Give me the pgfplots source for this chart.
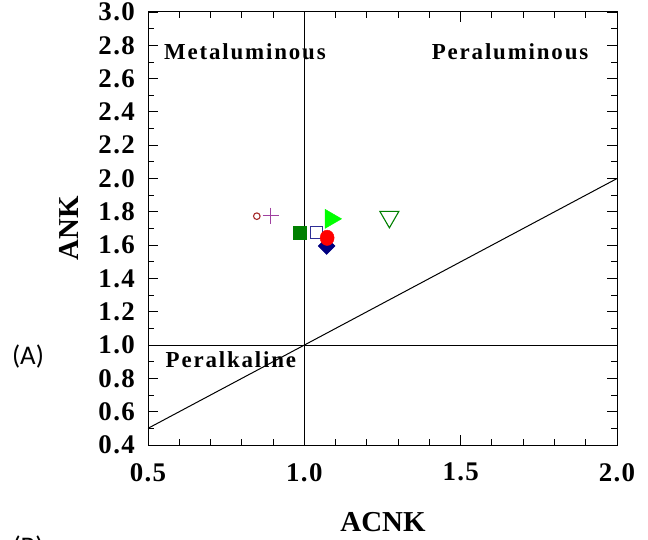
\documentclass[border=0pt]{standalone}
\usepackage{fontspec}
\setmainfont{Liberation Serif}
\newfontfamily\carlito{Carlito}
\newfontfamily\spaced[LetterSpace=8]{Liberation Serif}
\newfontfamily\tickfont[LetterSpace=5]{Liberation Serif}
\usepackage{pgfplots}
\pgfplotsset{compat=1.18}
\definecolor{mdarkred}{HTML}{A52A2A}
\definecolor{mpurple}{HTML}{A040A0}
\definecolor{mdgreen}{HTML}{008000}
\definecolor{mnavy}{HTML}{2E2E96}
\definecolor{mnavyf}{HTML}{000080}
\definecolor{mlime}{HTML}{00FF00}
\begin{document}
\begin{tikzpicture}
\path[use as bounding box] (0,0) rectangle (648bp,540bp);
\begin{axis}[
  at={(148bp,95bp)}, anchor=south west,
  scale only axis, width=469bp, height=433bp,
  xmin=0.5, xmax=2.0, ymin=0.4, ymax=3.0,
  xtick={0.5,1.0,1.5,2.0},
  ytick={0.4,0.6,0.8,1.0,1.2,1.4,1.6,1.8,2.0,2.2,2.4,2.6,2.8,3.0},
  minor x tick num=4, minor y tick num=1,
  tick align=inside, xtick pos=both, ytick pos=both,
  major tick length=10bp, minor tick length=6bp,
  tick style={black, line width=0.9bp},
  axis line style={line width=1bp},
  /pgf/number format/.cd, fixed, fixed zerofill, precision=1, assume math mode=true,
  /pgfplots/.cd,
  ticklabel style={font=\tickfont\bfseries\fontsize{27}{29}\selectfont},
  yticklabel style={inner sep=0pt, anchor=east, xshift=-13bp},
  xticklabel style={inner sep=0pt, anchor=north, yshift=-18bp},
  xlabel={ACNK}, ylabel={ANK},
  label style={font=\bfseries\fontsize{29}{31}\selectfont},
  xlabel style={at={(axis description cs:0.501,-0.1778)}, anchor=center},
  ylabel style={at={(axis description cs:-0.1684,0.501)}, anchor=center},
  clip=false,
]
\addplot[black, line width=1bp] coordinates {(0.5,0.5) (2.0,2.0)};
\addplot[black, line width=1bp] coordinates {(1.0,0.4) (1.0,3.0)};
\addplot[black, line width=1bp] coordinates {(0.5,1.0) (2.0,1.0)};
% samples
\addplot[only marks, mark=o, mark size=3.3bp, mdarkred, line width=1.1bp] coordinates {(0.848,1.774)};
\addplot[only marks, mark=+, mark size=8bp, mpurple, line width=1.1bp] coordinates {(0.892,1.778)};
\addplot[only marks, mark=square*, mark size=6.5bp, draw=mdgreen, fill=mdgreen] coordinates {(0.986,1.674)};
\addplot[only marks, mark=square, mark size=6bp, mnavy, line width=1.1bp] coordinates {(1.040,1.674)};
\addplot[only marks, mark=diamond*, mark size=8.5bp, mark options={xscale=1.33}, draw=mnavyf, fill=mnavyf] coordinates {(1.071,1.595)};
\addplot[only marks, mark=*, mark size=7bp, mark options={yscale=1.1}, draw=red, fill=red] coordinates {(1.073,1.644)};
\addplot[only marks, mark=triangle*, mark size=11bp, mark options={rotate=-90}, draw=mlime, fill=mlime] coordinates {(1.084,1.758)};
\addplot[only marks, mark=triangle, mark size=11bp, mark options={rotate=180}, mdgreen, line width=1.1bp] coordinates {(1.272,1.770)};
\node[font=\spaced\bfseries\fontsize{23}{25}\selectfont] at (axis cs:0.81,2.76) {Metaluminous};
\node[font=\spaced\bfseries\fontsize{23}{25}\selectfont] at (axis cs:1.658,2.76) {Peraluminous};
\node[font=\spaced\bfseries\fontsize{23}{25}\selectfont] at (axis cs:0.765,0.91) {Peralkaline};
\end{axis}
\node[font=\carlito\fontsize{27}{29}\selectfont] at (28bp,183bp) {(A)};
\node[font=\carlito\fontsize{27}{29}\selectfont, anchor=north, inner sep=0pt] at (28bp,4bp) {(B)};
\end{tikzpicture}
\end{document}
